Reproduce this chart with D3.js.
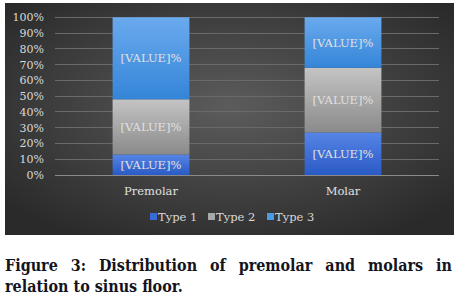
<!DOCTYPE html>
<html><head><meta charset="utf-8">
<script src="https://cdn.jsdelivr.net/npm/d3@7/dist/d3.min.js"></script>
<style>
html,body{margin:0;padding:0;background:#fff;}
svg{display:block;}
</style></head>
<body>
<svg id="c" width="457" height="298"></svg>
<script>
const categories = ["Premolar", "Molar"];
const seriesNames = ["Type 1", "Type 2", "Type 3"];
const type1 = [13, 27];
const type2 = [35, 41];
const type3 = [52, 32];
const tickValues = [0,10,20,30,40,50,60,70,80,90,100];
const tickLabels = ["0%","10%","20%","30%","40%","50%","60%","70%","80%","90%","100%"];
const captionLine1 = ["Figure", "3:", "Distribution", "of", "premolar", "and", "molars", "in"];
const captionLine2 = "relation to sinus floor.";

const svg = d3.select("#c");
const defs = svg.append("defs");

const bg = defs.append("radialGradient").attr("id","bg").attr("cx","50%").attr("cy","45%").attr("r","65%");
bg.append("stop").attr("offset","0%").attr("stop-color","#5c5c5c");
bg.append("stop").attr("offset","100%").attr("stop-color","#2a2a2a");

const grads = [["g1","#5585e6","#2a5ac4"],["g2","#c4c4c4","#8a8a8a"],["g3","#6aaaee","#3485d8"]];
grads.forEach(([id,a,b])=>{
  const g = defs.append("linearGradient").attr("id",id).attr("x1",0).attr("y1",0).attr("x2",0).attr("y2",1);
  g.append("stop").attr("offset","0%").attr("stop-color",a);
  g.append("stop").attr("offset","100%").attr("stop-color",b);
});

svg.append("rect").attr("x",5).attr("y",3).attr("width",449).attr("height",232).attr("fill","url(#bg)");

const font = "'DejaVu Serif', serif";
const x = d3.scaleBand().domain(categories).range([55,439]).paddingInner(0.6).paddingOuter(0.3);
const y = d3.scaleLinear().domain([0,100]).range([175,17.3]);

svg.append("g").selectAll("line").data(tickValues.filter(v=>v>0)).join("line")
  .attr("x1",55).attr("x2",439).attr("y1",d=>y(d)).attr("y2",d=>y(d))
  .attr("stroke","#6a6a6a").attr("stroke-width",1).attr("shape-rendering","crispEdges");

const yAxis = d3.axisLeft(y).tickValues(tickValues).tickFormat((d,i)=>tickLabels[i]).tickSize(0).tickPadding(6);
const yg = svg.append("g").attr("transform","translate(50,0)").call(yAxis);
yg.select(".domain").remove();
yg.selectAll("text").attr("fill","#d9d9d9").style("font-family",font).style("font-size","11px");

const rows = categories.map((c,i)=>({cat:c,"Type 1":type1[i],"Type 2":type2[i],"Type 3":type3[i]}));
const stack = d3.stack().keys(seriesNames)(rows);
const fills = ["url(#g1)","url(#g2)","url(#g3)"];
stack.forEach((s,k)=>{
  const g = svg.append("g");
  g.selectAll("rect").data(s).join("rect")
    .attr("x",d=>x(d.data.cat)).attr("width",x.bandwidth())
    .attr("y",d=>y(d[1])).attr("height",d=>y(d[0])-y(d[1]))
    .attr("fill",fills[k]);
  g.selectAll("text").data(s).join("text")
    .attr("x",d=>x(d.data.cat)+x.bandwidth()/2)
    .attr("y",d=>(y(d[0])+y(d[1]))/2)
    .attr("dy","0.35em").attr("text-anchor","middle")
    .attr("fill","#e0e0e0").style("font-family",font).style("font-size","11.5px")
    .text("[VALUE]%");
});

svg.append("line").attr("x1",55).attr("x2",439).attr("y1",y(0)).attr("y2",y(0))
  .attr("stroke","#8a8a8a").attr("shape-rendering","crispEdges");
const xAxis = d3.axisBottom(x).tickSize(0).tickPadding(12);
const xg = svg.append("g").attr("transform",`translate(0,${y(0)})`).call(xAxis);
xg.select(".domain").remove();
xg.selectAll("text").attr("fill","#e0e0e0").style("font-family",font).style("font-size","11.5px");

const legX = [150, 208, 267];
const swatch = ["#3a6ad8","#a8a8a8","#4a9ae6"];
const lg = svg.append("g");
seriesNames.forEach((n,i)=>{
  lg.append("rect").attr("x",legX[i]).attr("y",213).attr("width",7).attr("height",7).attr("fill",swatch[i]);
  lg.append("text").attr("x",legX[i]+8).attr("y",220.5).attr("fill","#d9d9d9")
    .style("font-family",font).style("font-size","11.5px").text(n);
});

// caption: larger font, horizontally compressed to match reference widths
const capFont = "'DejaVu Serif Condensed','DejaVu Serif',serif";
const fs = 16.5;
const cap = svg.append("g");
const t2 = cap.append("text").attr("x",0).attr("y",292.5).attr("fill","#141420")
  .style("font-family",capFont).style("font-weight","bold").style("font-size",fs+"px").text(captionLine2);
const w2 = t2.node().getComputedTextLength();
const sx = 178 / w2;
cap.attr("transform",`translate(5,0) scale(${sx},1)`);
const words = captionLine1.map(w=>cap.append("text").attr("y",271.5).attr("fill","#141420")
  .style("font-family",capFont).style("font-weight","bold").style("font-size",fs+"px").text(w));
const widths = words.map(t=>t.node().getComputedTextLength());
const total = d3.sum(widths);
const avail = (452-5)/sx;
const gap = (avail-total)/(words.length-1);
let cx = 0;
words.forEach((t,i)=>{ t.attr("x",cx); cx += widths[i]+gap; });
</script>
</body></html>
